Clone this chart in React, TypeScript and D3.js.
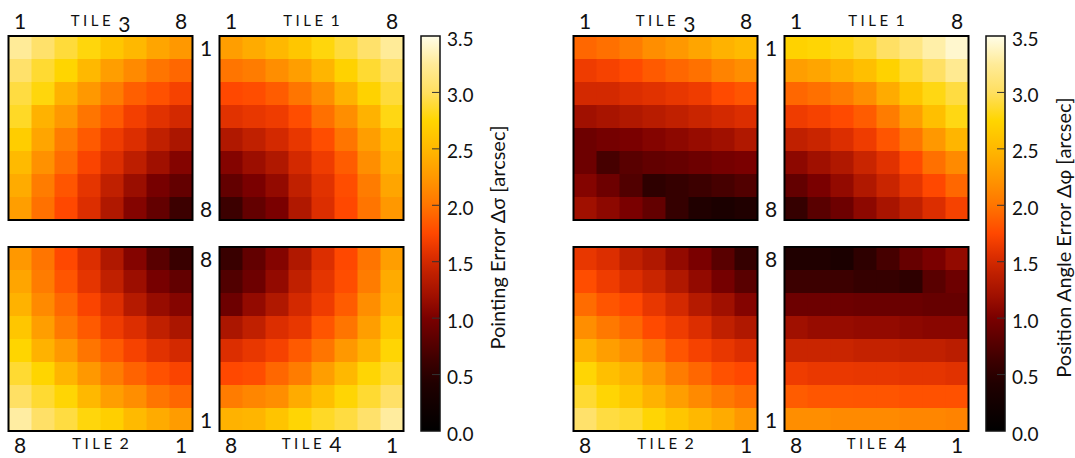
import React from 'react'
import * as d3 from 'd3'

// pointing error, rows top to bottom as drawn, columns left to right
const pointingTile3 = [
  [3.25, 3.05, 2.9, 2.78, 2.62, 2.5, 2.35, 2.25],
  [3.05, 2.88, 2.75, 2.5, 2.3, 2.15, 2.0, 1.92],
  [2.92, 2.78, 2.45, 2.25, 2.05, 1.88, 1.8, 1.7],
  [2.85, 2.45, 2.25, 2.0, 1.85, 1.68, 1.58, 1.5],
  [2.68, 2.35, 2.05, 1.85, 1.66, 1.55, 1.4, 1.27],
  [2.52, 2.2, 1.95, 1.72, 1.55, 1.38, 1.2, 1.05],
  [2.4, 2.05, 1.82, 1.6, 1.4, 1.17, 0.98, 0.86],
  [2.3, 1.98, 1.75, 1.55, 1.3, 1.05, 0.86, 0.62],
]
const pointingTile1 = [
  [2.3, 2.4, 2.5, 2.62, 2.78, 2.9, 3.05, 3.25],
  [2.0, 2.05, 2.18, 2.3, 2.48, 2.72, 2.88, 3.02],
  [1.75, 1.78, 1.86, 2.0, 2.18, 2.45, 2.72, 2.9],
  [1.58, 1.62, 1.66, 1.78, 1.97, 2.18, 2.45, 2.8],
  [1.3, 1.4, 1.5, 1.62, 1.78, 2.0, 2.3, 2.55],
  [1.05, 1.18, 1.3, 1.5, 1.66, 1.86, 2.18, 2.45],
  [0.86, 1.0, 1.13, 1.4, 1.58, 1.78, 2.05, 2.35],
  [0.62, 0.86, 1.0, 1.3, 1.55, 1.75, 2.0, 2.25],
]
const pointingTile2 = [
  [2.25, 2.0, 1.75, 1.55, 1.3, 1.05, 0.8, 0.6],
  [2.35, 2.05, 1.82, 1.6, 1.4, 1.18, 0.98, 0.85],
  [2.45, 2.15, 1.93, 1.72, 1.55, 1.33, 1.15, 1.06],
  [2.62, 2.3, 2.03, 1.85, 1.66, 1.55, 1.4, 1.27],
  [2.75, 2.45, 2.25, 2.0, 1.85, 1.7, 1.58, 1.5],
  [2.88, 2.75, 2.48, 2.25, 2.05, 1.9, 1.8, 1.72],
  [3.02, 2.88, 2.76, 2.5, 2.3, 2.18, 2.0, 1.92],
  [3.28, 3.03, 2.92, 2.78, 2.7, 2.52, 2.4, 2.28],
]
const pointingTile4 = [
  [0.6, 0.85, 1.05, 1.3, 1.55, 1.75, 2.0, 2.3],
  [0.75, 0.92, 1.13, 1.4, 1.6, 1.78, 2.05, 2.4],
  [0.92, 1.13, 1.3, 1.5, 1.66, 1.86, 2.18, 2.45],
  [1.27, 1.4, 1.55, 1.62, 1.82, 2.0, 2.3, 2.62],
  [1.55, 1.62, 1.7, 1.85, 2.0, 2.25, 2.45, 2.76],
  [1.75, 1.78, 1.92, 2.05, 2.3, 2.5, 2.76, 2.88],
  [2.05, 2.12, 2.18, 2.4, 2.56, 2.76, 2.88, 3.03],
  [2.45, 2.48, 2.6, 2.76, 2.85, 2.92, 3.05, 3.27],
]

// position angle error
const angleTile3 = [
  [1.92, 1.97, 2.05, 2.18, 2.25, 2.35, 2.45, 2.52],
  [1.66, 1.7, 1.76, 1.85, 1.92, 1.98, 2.1, 2.18],
  [1.5, 1.5, 1.55, 1.58, 1.62, 1.66, 1.76, 1.82],
  [1.2, 1.25, 1.3, 1.35, 1.4, 1.45, 1.5, 1.55],
  [0.92, 0.97, 1.0, 1.05, 1.1, 1.15, 1.2, 1.3],
  [0.92, 0.68, 0.8, 0.85, 0.88, 0.92, 0.97, 1.0],
  [1.05, 0.92, 0.75, 0.52, 0.57, 0.62, 0.68, 0.75],
  [1.2, 1.1, 1.0, 0.86, 0.57, 0.42, 0.35, 0.42],
]
const angleTile1 = [
  [2.72, 2.76, 2.8, 2.88, 3.02, 3.15, 3.3, 3.42],
  [2.3, 2.35, 2.45, 2.56, 2.72, 2.88, 3.02, 3.22],
  [1.92, 1.97, 2.05, 2.18, 2.4, 2.62, 2.8, 2.92],
  [1.66, 1.7, 1.76, 1.86, 2.05, 2.3, 2.56, 2.8],
  [1.4, 1.45, 1.55, 1.66, 1.82, 2.0, 2.25, 2.48],
  [1.1, 1.2, 1.3, 1.45, 1.58, 1.76, 1.97, 2.15],
  [0.86, 1.0, 1.13, 1.3, 1.45, 1.6, 1.75, 1.92],
  [0.57, 0.8, 0.92, 1.1, 1.25, 1.4, 1.55, 1.7],
]
const angleTile2 = [
  [1.62, 1.55, 1.4, 1.3, 1.13, 1.0, 0.8, 0.57],
  [1.78, 1.66, 1.55, 1.45, 1.3, 1.13, 0.97, 0.8],
  [1.95, 1.82, 1.75, 1.62, 1.5, 1.33, 1.2, 1.05],
  [2.18, 2.03, 1.92, 1.76, 1.66, 1.55, 1.4, 1.3],
  [2.45, 2.3, 2.18, 2.0, 1.82, 1.7, 1.62, 1.55],
  [2.76, 2.56, 2.45, 2.25, 2.05, 1.92, 1.8, 1.75],
  [2.88, 2.76, 2.62, 2.45, 2.3, 2.15, 2.03, 1.95],
  [3.05, 2.92, 2.88, 2.76, 2.62, 2.5, 2.4, 2.25],
]
const angleTile4 = [
  [0.42, 0.42, 0.35, 0.52, 0.68, 0.88, 1.0, 1.13],
  [0.62, 0.62, 0.62, 0.57, 0.57, 0.52, 0.8, 0.92],
  [0.92, 0.92, 0.92, 0.9, 0.9, 0.9, 0.88, 0.88],
  [1.2, 1.15, 1.15, 1.13, 1.13, 1.1, 1.08, 1.08],
  [1.45, 1.45, 1.45, 1.42, 1.42, 1.4, 1.4, 1.36],
  [1.66, 1.63, 1.63, 1.62, 1.62, 1.6, 1.6, 1.58],
  [1.86, 1.83, 1.83, 1.82, 1.82, 1.8, 1.8, 1.8],
  [2.18, 2.18, 2.15, 2.15, 2.15, 2.12, 2.12, 2.1],
]

const colorbarTicks = [0, 0.5, 1.0, 1.5, 2.0, 2.5, 3.0, 3.5]
const cmapStops = [0, 0.42, 0.62, 1.0, 1.2, 1.4, 1.55, 1.75, 2.0, 2.25, 2.5, 2.75, 3.0, 3.25, 3.5]
const cmapColors = ['#000000', '#200000', '#3c0000', '#7a0000', '#a01000', '#c02000', '#dc2e00',
  '#ff4800', '#ff7500', '#ff9800', '#ffb800', '#ffd500', '#ffdf60', '#ffeb98', '#fffde8']

const color = d3.scaleLinear<string>().domain(cmapStops).range(cmapColors).interpolate(d3.interpolateRgb).clamp(true)

const FONT = 'Lato, "Open Sans", sans-serif'
const tileSize = 184
const cell = d3.scaleBand<number>().domain(d3.range(8)).range([0, tileSize])
const topY = 36, bottomY = 247
const cbY = d3.scaleLinear().domain([0, 3.5]).range([431, 36])

const groups = [
  { id: 'pe', x: 8.5, cbX: 421, label: 'Pointing Error Δσ [arcsec]', labelX: 497,
    tiles: [pointingTile3, pointingTile1, pointingTile2, pointingTile4] },
  { id: 'pa', x: 573.5, cbX: 986, label: 'Position Angle Error Δφ [arcsec]', labelX: 1063,
    tiles: [angleTile3, angleTile1, angleTile2, angleTile4] },
]
const tileNames = ['3', '1', '2', '4']

function TileLabel({ x, y, n, drop }: { x: number, y: number, n: string, drop: number }) {
  const tall = n === '3' || n === '4'
  return (
    <text x={x} y={y} textAnchor='middle' fontFamily={FONT} fill='#111'>
      <tspan fontSize={15} letterSpacing={3.5}>TILE</tspan>
      <tspan fontSize={tall ? 21 : 16} dx={4} dy={tall ? drop : 0}>{n}</tspan>
    </text>
  )
}

function Tile({ data, x, y }: { data: number[][], x: number, y: number }) {
  return (
    <g transform={`translate(${x},${y})`}>
      {data.map((row, r) => row.map((v, c) => (
        <rect key={`${r}-${c}`} x={cell(c)} y={cell(r)} width={cell.bandwidth() + 0.5} height={cell.bandwidth() + 0.5}
          fill={color(v)} />
      )))}
      <rect width={tileSize} height={tileSize} fill='none' stroke='#000' strokeWidth={2} />
    </g>
  )
}

export default function App() {
  const half = cell.bandwidth() / 2
  return (
    <div style={{ position: 'absolute', left: 0, top: 0 }}>
      <svg width={1075} height={458} style={{ display: 'block', background: '#fff' }}>
        <defs>
          <linearGradient id='cmap' x1='0' y1='1' x2='0' y2='0'>
            {cmapStops.map((s, i) => (
              <stop key={i} offset={s / 3.5} stopColor={cmapColors[i]} />
            ))}
          </linearGradient>
        </defs>
        {groups.map(g => {
          const x2 = g.x + 211
          const pos = [[g.x, topY], [x2, topY], [g.x, bottomY], [x2, bottomY]]
          const rowLabelX = g.x + tileSize + 13.5
          return (
            <g key={g.id}>
              {g.tiles.map((t, i) => <Tile key={i} data={t} x={pos[i][0]} y={pos[i][1]} />)}
              {[g.x, x2].map((tx, i) => (
                <g key={'top' + i} fontFamily={FONT} fontSize={21} textAnchor='middle' fill='#111'>
                  <text x={tx + cell(0)! + half} y={29}>1</text>
                  <text x={tx + cell(7)! + half} y={29}>8</text>
                  <text x={tx + cell(0)! + half} y={453}>8</text>
                  <text x={tx + cell(7)! + half} y={453}>1</text>
                </g>
              ))}
              <TileLabel x={g.x + tileSize / 2} y={26} n={tileNames[0]} drop={6} />
              <TileLabel x={x2 + tileSize / 2} y={26} n={tileNames[1]} drop={6} />
              <TileLabel x={g.x + tileSize / 2} y={449} n={tileNames[2]} drop={3} />
              <TileLabel x={x2 + tileSize / 2} y={449} n={tileNames[3]} drop={3} />
              <g fontFamily={FONT} fontSize={21} textAnchor='middle' dominantBaseline='central' fill='#111'>
                <text x={rowLabelX} y={topY + cell(0)! + half}>1</text>
                <text x={rowLabelX} y={topY + cell(7)! + half}>8</text>
                <text x={rowLabelX} y={bottomY + cell(0)! + half}>8</text>
                <text x={rowLabelX} y={bottomY + cell(7)! + half}>1</text>
              </g>
              <rect x={g.cbX} y={cbY(3.5)} width={19} height={cbY(0) - cbY(3.5)} fill='url(#cmap)'
                stroke='#111' strokeWidth={1.5} />
              {colorbarTicks.slice(1, -1).map(t => (
                <line key={t} x1={g.cbX + 11} x2={g.cbX + 19} y1={cbY(t)} y2={cbY(t)} stroke='#333' strokeWidth={1} />
              ))}
              {colorbarTicks.map(t => (
                <text key={'l' + t} x={g.cbX + 26} y={cbY(t) + 2} dominantBaseline='central'
                  fontFamily={FONT} fontSize={19} fill='#111'>{t.toFixed(1)}</text>
              ))}
              <text transform={`translate(${g.labelX},${(cbY(0) + cbY(3.5)) / 2 + 4}) rotate(-90)`}
                textAnchor='middle' dominantBaseline='central' fontFamily={FONT} fontSize={20} fill='#111'>{g.label}</text>
            </g>
          )
        })}
      </svg>
    </div>
  )
}
